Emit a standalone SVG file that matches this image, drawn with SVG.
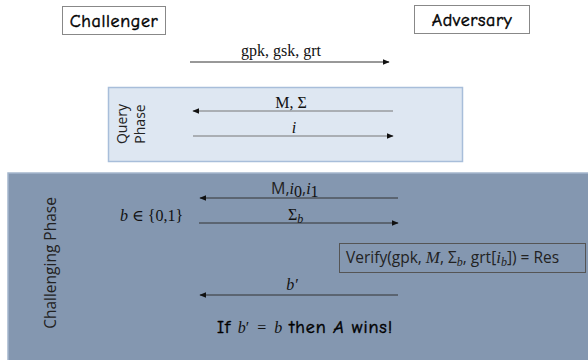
<svg xmlns="http://www.w3.org/2000/svg" width="588" height="360" viewBox="0 0 588 360">
<defs>
<style>
.role{font-family:"Comic Neue","DejaVu Sans","Liberation Sans",sans-serif;font-size:18px;fill:#000;stroke:#000;stroke-width:0.45;letter-spacing:0.6px}
.serif{font-family:"Liberation Serif","DejaVu Serif",serif;font-size:16px;fill:#111;stroke:none;letter-spacing:0}
.it{font-style:italic}
.cal{font-family:"Open Sans","Liberation Sans",sans-serif;fill:#222}
.arr{stroke:#333;stroke-width:1;fill:none}
.arrq{stroke:#777;stroke-width:1;fill:none}
</style>
<marker id="ah" viewBox="0 0 10 10" refX="9" refY="5" markerWidth="7" markerHeight="7" orient="auto" markerUnits="userSpaceOnUse">
<path d="M0,1 L10,5 L0,9 z" fill="#111"/>
</marker>
</defs>
<rect width="588" height="360" fill="#fff"/>

<g id="challenging-phase">
<rect x="8" y="173" width="585" height="195" fill="#8497B0" stroke="#A4B6CD" stroke-width="1.5"/>
<text class="cal" font-size="15.5" transform="translate(56,263) rotate(-90)" text-anchor="middle" fill="#333">Challenging Phase</text>
</g>

<g id="query-phase">
<rect x="108.5" y="87.5" width="354" height="74" fill="#DEE7F2" stroke="#A8BEDA" stroke-width="1.5"/>
<text class="cal" font-size="14" transform="translate(127,124) rotate(-90)" text-anchor="middle" fill="#333">Query</text>
<text class="cal" font-size="14" transform="translate(145,124) rotate(-90)" text-anchor="middle" fill="#333">Phase</text>
</g>

<g id="challenger">
<rect x="62.5" y="6.5" width="103" height="28" fill="#fff" stroke="#888" stroke-width="1"/>
<text class="role" x="114" y="27" text-anchor="middle">Challenger</text>
</g>

<g id="adversary">
<rect x="414.5" y="5.5" width="115" height="28" fill="#fff" stroke="#888" stroke-width="1"/>
<text class="role" x="472" y="26" text-anchor="middle">Adversary</text>
</g>

<g id="verify">
<rect x="339.5" y="243.5" width="246" height="29" fill="none" stroke="#555" stroke-width="1"/>
<text class="cal" font-size="15.5" x="346" y="263">Verify(gpk, <tspan class="it" font-family="Liberation Serif,serif" font-size="17">M</tspan>, Σ<tspan class="it" font-family="Liberation Serif,serif" font-size="12" dy="3">b</tspan><tspan dy="-3">, grt[</tspan><tspan class="it" font-family="Liberation Serif,serif" font-size="17">i</tspan><tspan class="it" font-family="Liberation Serif,serif" font-size="12" dy="3">b</tspan><tspan dy="-3">]) = Res</tspan></text>
</g>

<g id="connectors">
<line class="arr" x1="190" y1="62" x2="389" y2="62" marker-end="url(#ah)"/>
<line class="arrq" x1="393" y1="111" x2="193" y2="111" marker-end="url(#ah)"/>
<line class="arrq" x1="193" y1="136" x2="393" y2="136" marker-end="url(#ah)"/>
<line class="arr" x1="398" y1="198" x2="200" y2="198" marker-end="url(#ah)"/>
<line class="arr" x1="199" y1="223" x2="398" y2="223" marker-end="url(#ah)"/>
<line class="arr" x1="398" y1="295" x2="200" y2="295" marker-end="url(#ah)"/>
</g>

<g id="labels">
<text class="serif" x="281" y="56" text-anchor="middle">gpk, gsk, grt</text>
<text class="serif" x="291" y="108" text-anchor="middle" font-size="15">M, Σ</text>
<text class="serif it" x="294" y="133" text-anchor="middle" font-size="16">i</text>
<text class="cal" font-size="16" x="271" y="194">M,<tspan class="serif it" font-size="17">i</tspan><tspan class="serif" font-size="12" dy="3">0</tspan><tspan dy="-3">,</tspan><tspan class="serif it" font-size="17">i</tspan><tspan class="serif" font-size="12" dy="3">1</tspan></text>
<text class="serif" x="288" y="220" font-size="16">Σ<tspan class="it" font-size="12" dy="3">b</tspan></text>
<text class="serif" x="120" y="221" font-size="17"><tspan class="it">b</tspan> ∈ {0,1}</text>
<text class="serif it" x="292" y="290" text-anchor="middle" font-size="17">b′</text>
<text class="role" x="217" y="333" font-size="20" style="letter-spacing:0.9px">If <tspan class="serif it" font-size="19">b</tspan><tspan class="serif" font-size="19">′ &#160;= &#160;</tspan><tspan class="serif it" font-size="19">b</tspan> then <tspan font-style="italic">A</tspan> wins!</text>
</g>
</svg>
